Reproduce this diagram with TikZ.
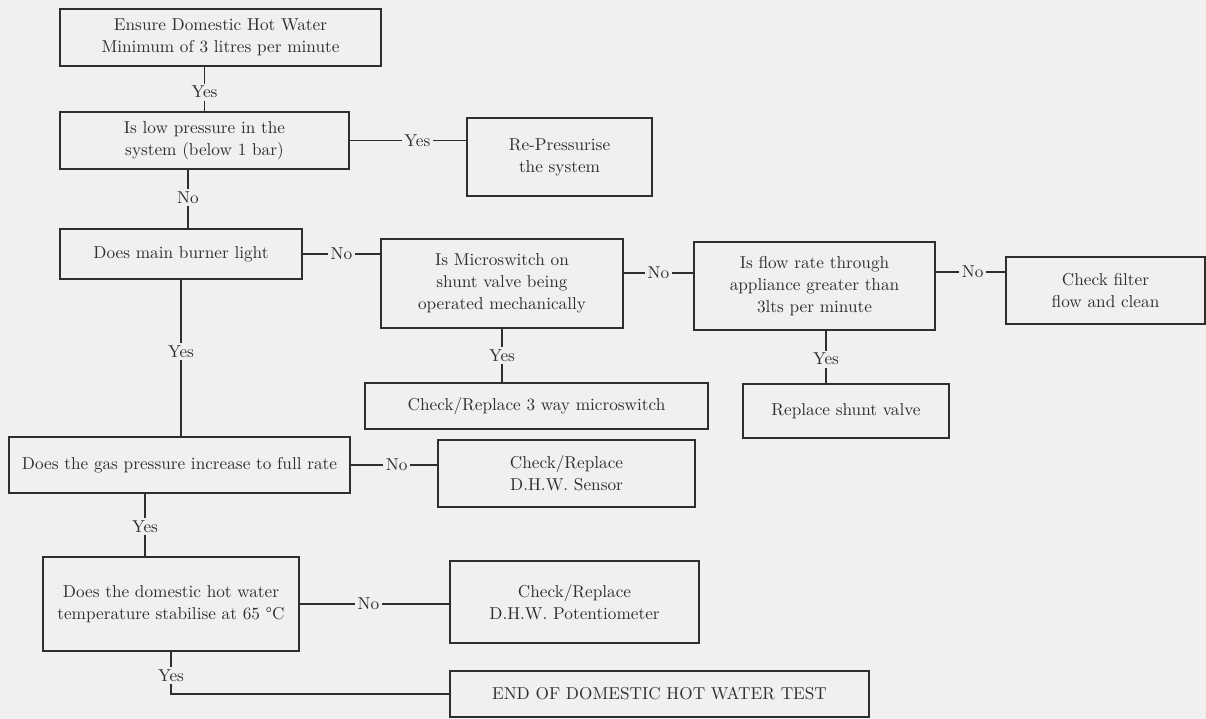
\documentclass[tikz,border=0pt]{standalone}
\usepackage{tikz}
\usetikzlibrary{calc,positioning}
\definecolor{scanbg}{gray}{0.94}
\definecolor{ink}{gray}{0.18}

\begin{document}
\begin{tikzpicture}[
  x=0.02cm, y=-0.02cm,
  box/.style 2 args={rectangle, draw=ink, line width=0.6pt, text=ink, align=center, inner sep=2pt,
    minimum width=#1*0.02cm, minimum height=#2*0.02cm, font=\fontsize{9.8}{12.5}\selectfont},
  answer/.style={fill=scanbg, text=ink, inner sep=1.5pt, font=\fontsize{9.8}{12}\selectfont},
  link/.style={draw=ink, line width=0.6pt}
]
  \fill[scanbg] (0,0) rectangle (1206,719);
  \useasboundingbox (0,0) rectangle (1206,719);

  % boxes of the flow chart
  \node[box={321}{57}] (ensure)   at (220.5,37.5) {Ensure Domestic Hot Water\\Minimum of 3 litres per minute};
  \node[box={289}{57}] (lowpress) at (204.5,140.5) {Is low pressure in the\\system (below 1 bar)};
  \node[box={185}{78}] (repress)  at (559.5,157) {Re-Pressurise\\the system};
  \node[box={242}{50}] (burner)   at (181,254) {Does main burner light};
  \node[box={242}{89}] (micro)    at (502,283.5) {Is Microswitch on\\shunt valve being\\operated mechanically};
  \node[box={241}{88}] (flow)     at (814.5,286) {Is flow rate through\\appliance greater than\\3lts per minute};
  \node[box={199}{67}] (filter)   at (1105.5,290.5) {Check filter\\flow and clean};
  \node[box={206}{54}] (shunt)    at (846,411) {Replace shunt valve};
  \node[box={343}{46}] (threeway) at (536.5,406) {Check/Replace 3 way microswitch};
  \node[box={341}{56}] (gas)      at (179.5,465) {Does the gas pressure increase to full rate};
  \node[box={257}{67}] (sensor)   at (566.5,473.5) {Check/Replace\\D.H.W. Sensor};
  \node[box={256}{94}] (dhw)      at (171,604) {Does the domestic hot water\\temperature stabilise at 65 \textdegree C};
  \node[box={249}{82}] (pot)      at (574.5,602) {Check/Replace\\D.H.W. Potentiometer};
  \node[box={419}{46}] (endtest)  at (659.5,694) {END OF DOMESTIC HOT WATER TEST};

  % where the lines leave off centre
  \coordinate (lpout) at ($(lowpress.south)+(-16.5,0)$);
  \coordinate (miout) at ($(micro.east)+(0,-10.5)$);
  \coordinate (flout) at ($(flow.east)+(0,-14)$);
  \coordinate (fldown) at ($(flow.south)+(11.5,0)$);
  \coordinate (gsout) at ($(gas.south)+(-34.5,0)$);

  % connectors
  \draw[link] (ensure.south -| lowpress.north) -- node[answer, pos=0.57] {Yes} (lowpress.north);
  \draw[link] (lowpress.east) -- node[answer, pos=0.58] {Yes} (lowpress.east -| repress.west);
  \draw[link] (lpout) -- node[answer, pos=0.47] {No} (lpout |- burner.north);
  \draw[link] (burner.east) -- node[answer, pos=0.5] {No} (burner.east -| micro.west);
  \draw[link] (miout) -- node[answer, pos=0.5] {No} (miout -| flow.west);
  \draw[link] (flout) -- node[answer, pos=0.53] {No} (flout -| filter.west);
  \draw[link] (fldown) -- node[answer, pos=0.54] {Yes} (fldown |- shunt.north);
  \draw[link] (micro.south) -- node[answer, pos=0.5] {Yes} (micro.south |- threeway.north);
  \draw[link] (burner.south) -- node[answer, pos=0.46] {Yes} (burner.south |- gas.north);
  \draw[link] (gas.east) -- node[answer, pos=0.53] {No} (gas.east -| sensor.west);
  \draw[link] (gsout) -- node[answer, pos=0.52] {Yes} (gsout |- dhw.north);
  \draw[link] (dhw.east) -- node[answer, pos=0.46] {No} (dhw.east -| pot.west);
  \draw[link] (dhw.south) |- node[answer, pos=0.28] {Yes} (endtest.west);
\end{tikzpicture}
\end{document}
